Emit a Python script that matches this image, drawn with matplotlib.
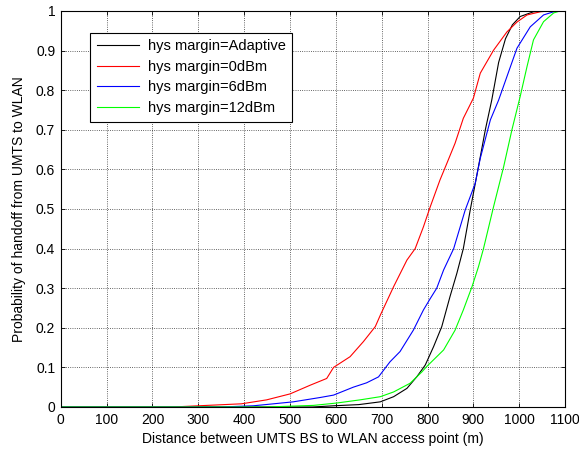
import numpy as np
import matplotlib
matplotlib.use("Agg")
import matplotlib.pyplot as plt

plt.rcParams['font.family'] = ['Liberation Sans', 'DejaVu Sans']

# curves (distance in m, probability)
adaptive_x = [0, 550, 595, 650, 697, 726, 755, 777, 795, 813, 831, 849, 864, 878, 893, 911, 926, 940, 955, 970, 985, 1002, 1031, 1060, 1100]
adaptive_y = [0, 0.0, 0.003, 0.006, 0.013, 0.026, 0.047, 0.077, 0.106, 0.152, 0.203, 0.279, 0.338, 0.40, 0.497, 0.607, 0.70, 0.775, 0.87, 0.93, 0.965, 0.986, 0.998, 1.0, 1.0]

odbm_x = [0, 245, 300, 394, 449, 500, 544, 580, 595, 631, 660, 686, 697, 726, 755, 773, 791, 806, 827, 842, 860, 878, 900, 915, 944, 973, 995, 1017, 1046, 1065, 1100]
odbm_y = [0, 0, 0.003, 0.008, 0.018, 0.033, 0.055, 0.072, 0.10, 0.127, 0.165, 0.203, 0.232, 0.304, 0.371, 0.40, 0.455, 0.506, 0.573, 0.615, 0.666, 0.729, 0.78, 0.843, 0.901, 0.947, 0.972, 0.99, 0.998, 1.0, 1.0]

sixdbm_x = [0, 350, 420, 464, 507, 566, 595, 638, 667, 693, 718, 740, 769, 791, 806, 820, 835, 857, 882, 904, 915, 937, 955, 973, 995, 1024, 1053, 1075, 1085, 1100]
sixdbm_y = [0, 0, 0.003, 0.008, 0.013, 0.024, 0.03, 0.05, 0.061, 0.076, 0.114, 0.14, 0.194, 0.245, 0.274, 0.30, 0.346, 0.40, 0.497, 0.565, 0.628, 0.725, 0.775, 0.834, 0.906, 0.96, 0.99, 0.998, 1.0, 1.0]

twelvedbm_x = [0, 450, 551, 602, 653, 697, 726, 762, 788, 798, 835, 860, 878, 897, 911, 922, 944, 966, 984, 1002, 1017, 1031, 1053, 1075, 1089, 1100]
twelvedbm_y = [0, 0, 0.004, 0.01, 0.018, 0.026, 0.038, 0.06, 0.089, 0.102, 0.144, 0.194, 0.245, 0.304, 0.354, 0.40, 0.506, 0.607, 0.70, 0.784, 0.86, 0.927, 0.973, 0.995, 1.0, 1.0]

fig = plt.figure(figsize=(5.79, 4.5), dpi=100)
ax = fig.add_axes([0.105, 0.0956, 0.871, 0.88])

ax.plot(adaptive_x, adaptive_y, color='black', lw=0.8, label='hys margin=Adaptive')
ax.plot(odbm_x, odbm_y, color='red', lw=0.8, label='hys margin=0dBm')
ax.plot(sixdbm_x, sixdbm_y, color='blue', lw=0.8, label='hys margin=6dBm')
ax.plot(twelvedbm_x, twelvedbm_y, color='#00ff00', lw=0.8, label='hys margin=12dBm')

ax.set_xlim(0, 1100)
ax.set_ylim(0, 1)
ax.set_xticks(np.arange(0, 1101, 100))
ax.set_yticks(np.arange(0, 1.01, 0.1))
ax.set_yticklabels(['0', '0.1', '0.2', '0.3', '0.4', '0.5', '0.6', '0.7', '0.8', '0.9', '1'])
ax.tick_params(direction='in', top=True, right=True, labelsize=10, length=3, width=0.6, pad=4)
ax.grid(True, color='black', linestyle=':', linewidth=0.6, alpha=0.8)
for s in ax.spines.values():
    s.set_linewidth(0.8)

ax.set_xlabel('Distance between UMTS BS to WLAN access point (m)', fontsize=10, labelpad=4)
ax.set_ylabel('Probability of handoff from UMTS to WLAN', fontsize=10, labelpad=7)

leg = ax.legend(loc='upper left', bbox_to_anchor=(0.058, 0.945), fontsize=10.5,
                fancybox=False, edgecolor='black', framealpha=1,
                handlelength=2.9, handletextpad=0.6, labelspacing=0.45,
                borderpad=0.45, borderaxespad=0)
leg.get_frame().set_linewidth(0.8)

fig.savefig('out.png', dpi=100)
